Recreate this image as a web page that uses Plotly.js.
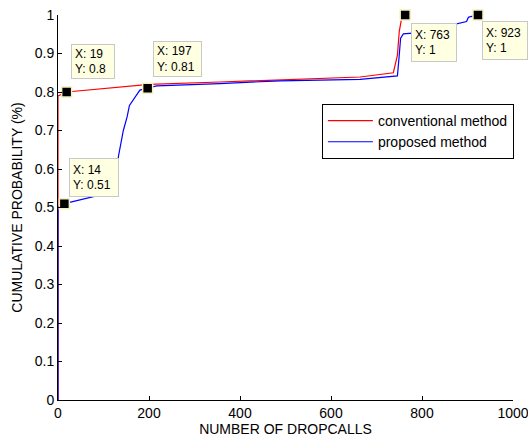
<!DOCTYPE html>
<html>
<head>
<meta charset="utf-8">
<script src="https://cdn.plot.ly/plotly-3.0.1.min.js"></script>
<style>html,body{margin:0;padding:0;background:#fff;}</style>
</head>
<body>
<div id="chart" style="width:528px;height:441px;"></div>
<script>
// Conventional method CDF
const convX = [0, 0, 19, 200, 356, 488, 664, 737, 746, 750, 755, 763];
const convY = [0, 0.79, 0.80, 0.82, 0.826, 0.831, 0.839, 0.85, 0.896, 0.957, 0.99, 1];
// Proposed method CDF
const propX = [0, 0, 14, 74, 120, 130, 133, 143.6, 152, 157, 173, 180, 197, 217, 356, 488, 664, 746, 750, 753, 759, 774, 800, 850, 876, 898, 902, 907, 923];
const propY = [0, 0.50, 0.51, 0.526, 0.54, 0.60, 0.634, 0.70, 0.736, 0.765, 0.792, 0.805, 0.81, 0.816, 0.822, 0.829, 0.833, 0.842, 0.896, 0.94, 0.951, 0.952, 0.955, 0.97, 0.978, 0.983, 0.994, 0.996, 1];
// Data tips
const tipX = [19, 197, 14, 763, 923];
const tipY = [0.8, 0.81, 0.51, 1, 1];
const tipLabels = ["X: 19<br>Y: 0.8", "X: 197<br>Y: 0.81", "X: 14<br>Y: 0.51", "X: 763<br>Y: 1", "X: 923<br>Y: 1"];
const seriesNames = ["conventional method", "proposed method"];
const xTicks = [0, 200, 400, 600, 800, 1000];
const yTicks = [0, 0.1, 0.2, 0.3, 0.4, 0.5, 0.6, 0.7, 0.8, 0.9, 1];

const FONT = "Liberation Sans, Arial, Helvetica, sans-serif";

// tip box placement styling (offsets in px)
const tipStyle = [
  {xanchor: "left", yanchor: "bottom", xshift: 4, yshift: 13, w: 36, h: 27},
  {xanchor: "left", yanchor: "bottom", xshift: 5, yshift: 11, w: 41, h: 28},
  {xanchor: "left", yanchor: "bottom", xshift: 5, yshift: 7, w: 42, h: 31},
  {xanchor: "left", yanchor: "top", xshift: 5.5, yshift: -8, w: 38, h: 31},
  {xanchor: "left", yanchor: "top", xshift: 4.5, yshift: -6, w: 38, h: 31}
];

const traces = [
  {x: convX, y: convY, type: "scatter", mode: "lines", name: seriesNames[0],
   line: {color: "#ff0000", width: 1.2}},
  {x: propX, y: propY, type: "scatter", mode: "lines", name: seriesNames[1],
   line: {color: "#0000ff", width: 1.2}},
  {x: tipX, y: tipY, type: "scatter", mode: "markers", showlegend: false,
   marker: {symbol: "square", size: 10, color: "#000000", line: {color: "#f5f0c0", width: 1.5}},
   cliponaxis: false}
];

const annotations = tipX.map((x, i) => ({
  x: x, y: tipY[i], xref: "x", yref: "y",
  text: tipLabels[i], showarrow: false, align: "left",
  xanchor: tipStyle[i].xanchor, yanchor: tipStyle[i].yanchor,
  xshift: tipStyle[i].xshift, yshift: tipStyle[i].yshift,
  width: tipStyle[i].w, height: tipStyle[i].h,
  bgcolor: "#ffffe1", bordercolor: "#c8c8c8", borderwidth: 1, borderpad: 3,
  font: {family: FONT, size: 12, color: "#000"}
}));

const layout = {
  width: 528, height: 441,
  margin: {l: 58, r: 15, t: 15, b: 41, pad: 0},
  paper_bgcolor: "#ffffff", plot_bgcolor: "#ffffff",
  font: {family: FONT, size: 14, color: "#000"},
  showlegend: true,
  legend: {x: 0.58, y: 0.769, xanchor: "left", yanchor: "top",
    bordercolor: "#000", borderwidth: 1, bgcolor: "#ffffff",
    itemwidth: 45,
    font: {family: FONT, size: 14}, tracegroupgap: 0},
  xaxis: {range: [0, 1000], tickvals: xTicks, ticks: "inside", ticklen: 4,
    tickcolor: "#000", showline: true, linecolor: "#000", linewidth: 1,
    showgrid: false, zeroline: false, mirror: false,
    ticklabeloverflow: "allow",
    tickfont: {family: FONT, size: 14},
    title: {text: "NUMBER OF DROPCALLS", font: {family: FONT, size: 14}, standoff: 4}},
  yaxis: {range: [0, 1], tickvals: yTicks, ticks: "inside", ticklen: 4,
    tickcolor: "#000", showline: true, linecolor: "#000", linewidth: 1,
    showgrid: false, zeroline: false, mirror: false,
    tickfont: {family: FONT, size: 14},
    title: {text: "CUMULATIVE PROBABILITY (%)", font: {family: FONT, size: 14}, standoff: 8}},
  annotations: annotations
};

Plotly.newPlot("chart", traces, layout, {staticPlot: true, displayModeBar: false});
</script>
</body>
</html>
